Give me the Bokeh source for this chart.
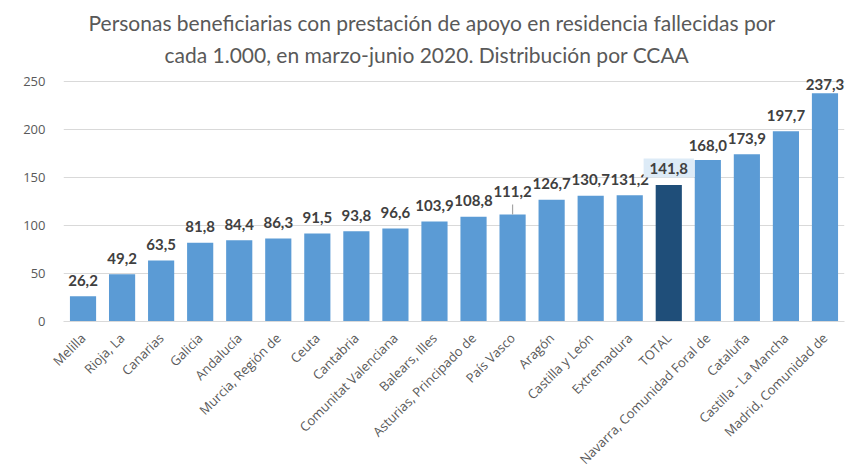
import math
from bokeh.plotting import figure
from bokeh.models import ColumnDataSource, FactorRange, Range1d, FixedTicker, Title
from bokeh.core.properties import value
from bokeh.embed import file_html
from bokeh.resources import INLINE

categories = ["Melilla", "Rioja, La", "Canarias", "Galicia", "Andalucía",
              "Murcia, Región de", "Ceuta", "Cantabria", "Comunitat Valenciana",
              "Balears, Illes", "Asturias, Principado de", "País Vasco", "Aragón",
              "Castilla y León", "Extremadura", "TOTAL",
              "Navarra, Comunidad Foral de", "Cataluña", "Castilla - La Mancha",
              "Madrid, Comunidad de"]
values = [26.2, 49.2, 63.5, 81.8, 84.4, 86.3, 91.5, 93.8, 96.6, 103.9,
          108.8, 111.2, 126.7, 130.7, 131.2, 141.8, 168.0, 173.9, 197.7, 237.3]
y_ticks = [0, 50, 100, 150, 200, 250]
highlight = "TOTAL"
title_line1 = "Personas beneficiarias con prestación de apoyo en residencia fallecidas por"
title_line2 = "cada 1.000, en marzo-junio 2020. Distribución por CCAA"

BLUE = "#5B9BD5"
DARK = "#1F4E79"
GRAY = "#595959"

labels = [f"{v:.1f}".replace(".", ",") for v in values]
colors = [DARK if c == highlight else BLUE for c in categories]

# label vertical offsets in screen pixels (negative = upward)
special_off = {"País Vasco": -23, "Madrid, Comunidad de": -9,
               "Navarra, Comunidad Foral de": -14, "TOTAL": -17}
offsets = [special_off.get(c, -16) for c in categories]

p = figure(x_range=FactorRange(factors=categories), y_range=Range1d(0, 262),
           frame_width=781, frame_height=252, output_backend="svg", toolbar_location=None,
           min_border_left=63, min_border_right=4, min_border_top=69, min_border_bottom=10)

src = ColumnDataSource(dict(cat=categories, val=values, col=colors))
p.vbar(x="cat", top="val", width=0.67, fill_color="col", line_color=None, source=src)

# leader line for País Vasco
pv = categories.index("País Vasco")
p.segment(x0=[categories[pv]], y0=[values[pv]], x1=[categories[pv]], y1=[values[pv] + 10.5],
          line_color="#A6A6A6", line_width=1.2)

normal = [i for i, c in enumerate(categories) if c != highlight]
src_n = ColumnDataSource(dict(cat=[categories[i] for i in normal], val=[values[i] for i in normal],
                              lab=[labels[i] for i in normal], off=[offsets[i] for i in normal]))
p.text(x="cat", y="val", text="lab", source=src_n, y_offset="off",
       text_align="center", text_baseline="middle", text_font=value("Lato"),
       text_font_style="bold", text_font_size="15px", text_color="#404040")

ti = categories.index(highlight)
src_t = ColumnDataSource(dict(cat=[categories[ti]], val=[values[ti]], lab=[labels[ti]], off=[offsets[ti]]))
p.text(x="cat", y="val", text="lab", source=src_t, y_offset="off",
       text_align="center", text_baseline="middle", text_font=value("Lato"),
       text_font_style="bold", text_font_size="15px", text_color="#404040",
       background_fill_color="#DDEBF7",
       padding=dict(left=6, right=6, top=4, bottom=4))

# two-line title (left-aligned with offsets so that each line is centred on the chart)
p.title.text = title_line1
p.title.align = "left"
p.title.offset = 25
p.title.text_font = "Lato"
p.title.text_font_size = "21px"
p.title.text_font_style = "normal"
p.title.text_color = GRAY
p.title.standoff = 4
t2 = Title(text=title_line2, align="left", offset=101, text_font="Lato",
           text_font_size="21px", text_font_style="normal", text_color=GRAY, standoff=6)
p.add_layout(t2, "above")

p.yaxis.ticker = FixedTicker(ticks=y_ticks)
p.yaxis.axis_line_color = None
p.yaxis.major_tick_line_color = None
p.yaxis.minor_tick_line_color = None
p.yaxis.major_label_text_font = "Open Sans"
p.yaxis.major_label_text_font_size = "13px"
p.yaxis.major_label_text_color = GRAY
p.yaxis.major_label_standoff = 12

p.xaxis.axis_line_color = "#D9D9D9"
p.xaxis.major_tick_line_color = None
p.xaxis.minor_tick_line_color = None
p.xaxis.major_label_orientation = math.pi / 4
p.xaxis.major_label_text_font = "Open Sans"
p.xaxis.major_label_text_font_size = "13px"
p.xaxis.major_label_text_color = GRAY
p.xaxis.major_label_standoff = 8

p.xgrid.grid_line_color = None
p.ygrid.grid_line_color = "#D9D9D9"
p.outline_line_color = None

open("out.html", "w").write(file_html(p, INLINE))
